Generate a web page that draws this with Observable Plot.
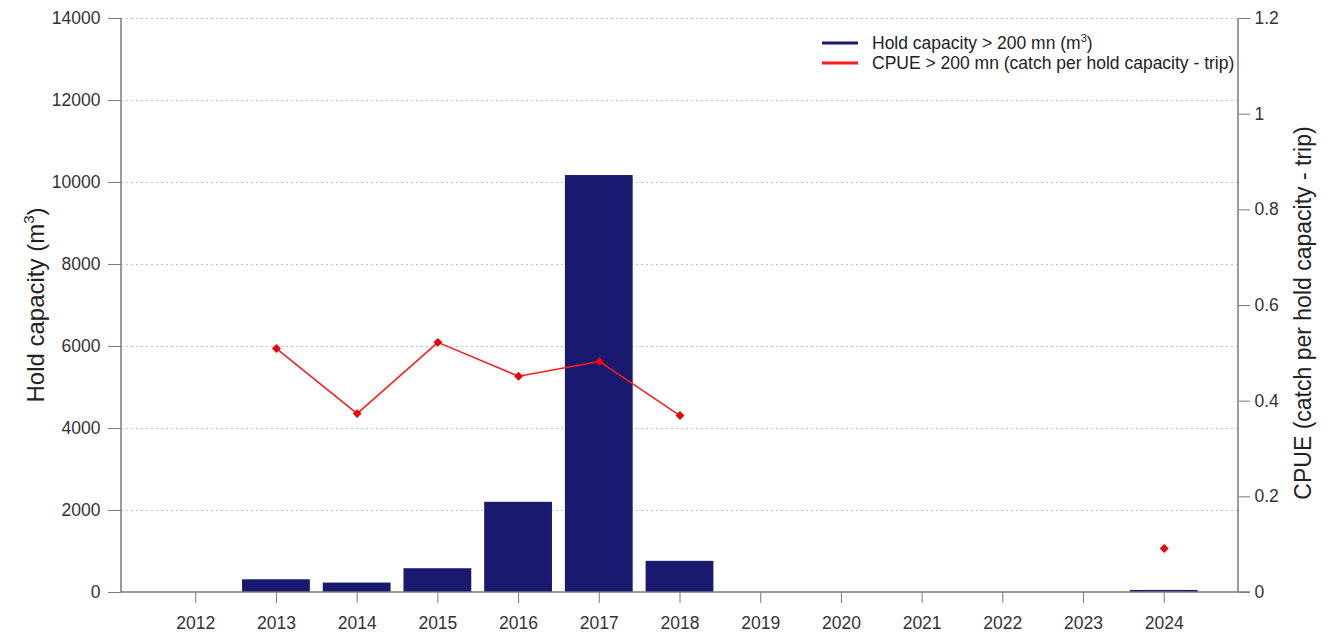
<!DOCTYPE html>
<html>
<head>
<meta charset="utf-8">
<script src="https://cdn.jsdelivr.net/npm/d3@7"></script>
<script src="https://cdn.jsdelivr.net/npm/@observablehq/plot@0.6"></script>
<style>
  html, body { margin: 0; padding: 0; background: #fff; }
  #chart { position: relative; width: 1330px; height: 637px; }
</style>
</head>
<body>
<div id="chart"></div>
<script>
// ---- Data ----
const years = ["2012","2013","2014","2015","2016","2017","2018","2019","2020","2021","2022","2023","2024"];
const holdCapacity = [null, 310, 230, 580, 2200, 10170, 760, null, null, null, null, null, 50];
const cpue = [null, 0.51, 0.374, 0.523, 0.452, 0.483, 0.37, null, null, null, null, null, 0.092];
const leftTicks = [0, 2000, 4000, 6000, 8000, 10000, 12000, 14000];
const rightTicks = [0, 0.2, 0.4, 0.6, 0.8, 1, 1.2];
const legendLabels = ["Hold capacity > 200 mn (m", "CPUE > 200 mn (catch per hold capacity - trip)"];

const leftMax = 14000, rightMax = 1.2;
const k = leftMax / rightMax;

const rows = years.map((year, i) => ({year, hold: holdCapacity[i], cpue: cpue[i]}));
const barRows = rows.filter(d => d.hold != null);
const dotRows = rows.filter(d => d.cpue != null);

const W = 1330, H = 637;
const mL = 121, mR = 92, mT = 18, mB = 45;
const navy = "#191970";
const axisGray = "#7a7a7a";

const chart = Plot.plot({
  width: W, height: H,
  marginLeft: mL, marginRight: mR, marginTop: mT, marginBottom: mB,
  style: {fontFamily: "Liberation Sans, Arial, sans-serif", fontSize: "17.5px", color: "#333", background: "#fff"},
  x: {type: "band", domain: years, paddingInner: 0.16, paddingOuter: 0.5, round: false},
  y: {domain: [0, leftMax]},
  marks: [
    Plot.gridY(leftTicks.slice(1), {stroke: "#c4c4c4", strokeOpacity: 1, strokeDasharray: "2,3"}),
    Plot.barY(barRows, {x: "year", y: "hold", fill: navy}),
    Plot.line(rows, {x: "year", y: d => d.cpue == null ? NaN : d.cpue * k, stroke: "#ff1a1a", strokeWidth: 1.5}),
    Plot.dot(dotRows, {x: "year", y: d => d.cpue * k, symbol: "diamond2", r: 4, fill: "#e8000b", stroke: "none"}),
    Plot.axisY({ticks: leftTicks, tickSize: 13, tickPadding: 8, stroke: axisGray, label: null, tickFormat: d => String(d)}),
    Plot.axisY({anchor: "right", ticks: rightTicks.map(v => v * k), tickSize: 11, tickPadding: 5, stroke: axisGray, label: null,
      tickFormat: v => d3.format("~g")(+(v / k).toFixed(3))}),
    Plot.axisX({tickSize: 11, tickPadding: 13, stroke: axisGray, label: null})
  ]
});

document.getElementById("chart").appendChild(chart);

// ---- axis lines, titles, legend ----
const svg = d3.select(chart);
const y = chart.scale("y");
const y0 = y.apply(0), yTop = y.apply(leftMax);
const xL = mL, xR = W - mR;
const g = svg.append("g").attr("stroke", axisGray).attr("stroke-width", 1.5);
g.append("line").attr("x1", xL).attr("x2", xL).attr("y1", yTop).attr("y2", y0);
g.append("line").attr("x1", xR).attr("x2", xR).attr("y1", yTop).attr("y2", y0);
g.append("line").attr("x1", xL).attr("x2", xR + 12).attr("y1", y0).attr("y2", y0);

const tl = svg.append("text")
  .attr("transform", `translate(44, ${(yTop + y0) / 2}) rotate(-90)`)
  .attr("text-anchor", "middle").attr("font-size", 24).attr("fill", "#222");
tl.append("tspan").text("Hold capacity (m");
tl.append("tspan").attr("font-size", 15).attr("dy", -10).text("3");
tl.append("tspan").attr("dy", 10).text(")");

svg.append("text")
  .attr("transform", `translate(1311, ${(yTop + y0) / 2 + 8}) rotate(-90)`)
  .attr("text-anchor", "middle").attr("font-size", 23).attr("fill", "#222")
  .text("CPUE (catch per hold capacity - trip)");

const lg = svg.append("g").attr("text-anchor", "start");
const legendColors = [navy, "#ff1a1a"];
legendLabels.forEach((lab, i) => {
  const ly = 43 + i * 20;
  lg.append("line").attr("x1", 822).attr("x2", 858).attr("y1", ly).attr("y2", ly)
    .attr("stroke", legendColors[i]).attr("stroke-width", 3);
  const t = lg.append("text").attr("x", 872).attr("y", ly + 6).attr("font-size", 17.5)
    .attr("fill", "#222").attr("text-anchor", "start");
  t.append("tspan").text(lab);
  if (i === 0) {
    t.append("tspan").attr("font-size", 11).attr("dy", -7).text("3");
    t.append("tspan").attr("dy", 7).text(")");
  }
});
</script>
</body>
</html>
